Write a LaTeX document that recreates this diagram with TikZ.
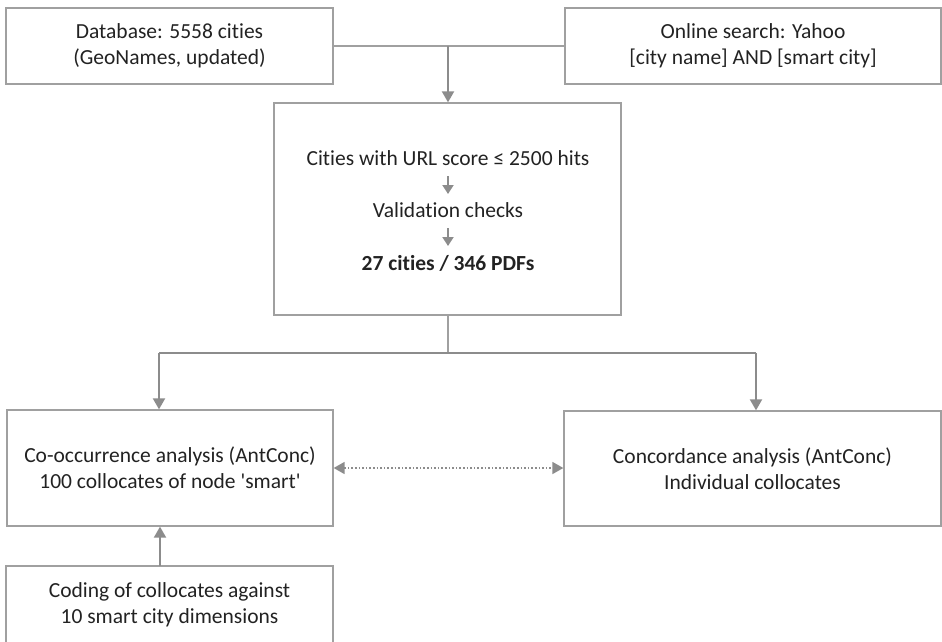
\documentclass[tikz,border=0pt]{standalone}
\usepackage{fontspec}
\newfontfamily\mainf{Carlito}[Ligatures=NoCommon]
\usetikzlibrary{arrows.meta}
\definecolor{boxgray}{HTML}{A0A0A0}
\definecolor{arrgray}{HTML}{8C8C8C}
\definecolor{txt}{HTML}{222222}
\tikzset{
  box/.style={draw=boxgray, line width=1.3pt, inner sep=0pt, align=center, text=txt,
    font=\mainf\fontsize{21.5}{26}\selectfont},
  thinline/.style={draw=boxgray, line width=1.1pt},
  arr/.style={draw=arrgray, line width=2pt, -{Triangle[width=12pt,length=11pt]}},
  smallarr/.style={draw=arrgray, line width=2pt, -{Triangle[width=11pt,length=9pt]}},
  dotarr/.style={draw=arrgray, line width=1.6pt, dotted, {Triangle[width=12pt,length=11pt]}-{Triangle[width=12pt,length=11pt]}},
  inner/.style={inner sep=0pt, text=txt, align=center, font=\mainf\fontsize{21.5}{26}\selectfont}
}
\begin{document}
\begin{tikzpicture}[x=1pt,y=-1pt]
\useasboundingbox (0,0) rectangle (942,641);
\clip (0,0) rectangle (942,641);
\node[box, minimum width=327pt, minimum height=76pt] (A) at (169.5,46) {Database: 5558 cities\\(GeoNames, updated)};
\node[box, minimum width=376pt, minimum height=76pt] (B) at (753,46) {Online search: Yahoo\\{}[city name] AND [smart city]};
\node[box, minimum width=347pt, minimum height=212pt] (C) at (447.5,209) {};
\node[inner] (c1) at (448,158) {Cities with URL score ≤ 2500 hits};
\node[inner] (c2) at (448,210) {Validation checks};
\node[inner, font=\mainf\fontsize{21.5}{26}\selectfont\bfseries] (c3) at (448,263) {27 cities / 346 PDFs};
\node[box, minimum width=326pt, minimum height=116pt] (D) at (170,468) {Co-occurrence analysis (AntConc)\\100 collocates of node 'smart'};
\node[box, minimum width=377pt, minimum height=115pt] (E) at (752.5,468.5) {Concordance analysis (AntConc)\\Individual collocates};
\node[box, minimum width=327pt, minimum height=110pt] (F) at (169.5,621) {};
\node[inner] (f) at (169.5,605) {Coding of collocates against\\10 smart city dimensions};
\coordinate (j1) at (448,46);
\coordinate (j2) at (448,353);
\coordinate (jl) at (159,353);
\coordinate (jr) at (756,353);
\coordinate (jf) at (160,566);
\coordinate (s1) at (448,176);
\coordinate (e1) at (448,194);
\coordinate (s2) at (448,228);
\coordinate (e2) at (448,246);
\draw[thinline] (A.east) -- (B.west);
\draw[arr] (j1) -- (j1 |- C.north);
\draw[smallarr] (s1) -- (e1);
\draw[smallarr] (s2) -- (e2);
\draw[thinline] (C.south -| j2) -- (j2);
\draw[arrgray, line width=2pt] (jl) -- (jr);
\draw[arr] (jl) -- (jl |- D.north);
\draw[arr] (jr) -- (jr |- E.north);
\draw[dotarr] (D.east) -- (D.east -| E.west);
\draw[arr] (jf) -- (jf |- D.south);
\end{tikzpicture}
\end{document}
